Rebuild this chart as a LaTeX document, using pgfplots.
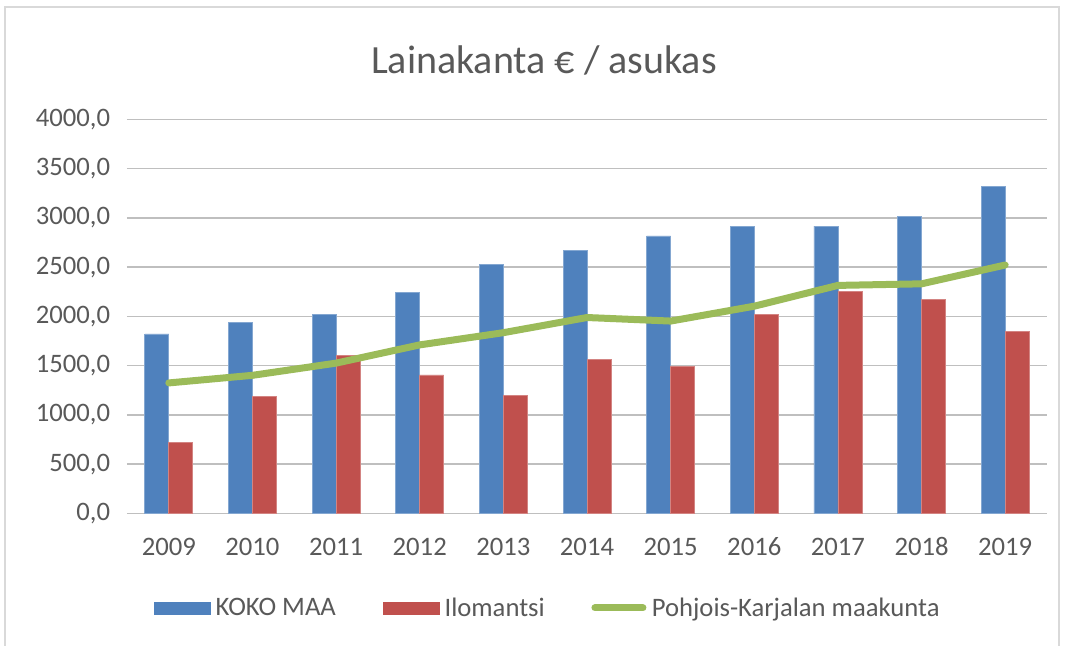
\documentclass[border=0pt]{standalone}
\usepackage{fontspec}
\setmainfont{Carlito}
\usepackage{pgfplots}
\pgfplotsset{compat=1.18}

\definecolor{kblue}{RGB}{79,129,189}
\definecolor{kred}{RGB}{192,80,77}
\definecolor{kgreen}{RGB}{155,187,89}
\definecolor{txt}{RGB}{89,89,89}
\definecolor{grid}{RGB}{217,217,217}

\begin{document}
\begin{tikzpicture}[x=0.75pt,y=0.75pt]
\useasboundingbox (0,0) rectangle (1065,646);
% chart frame
\draw[grid, line width=1pt] (5,0) -- (5,639) -- (1059,639) -- (1059,0);
\node[txt, font=\fontsize{30}{36}\selectfont] at (544,586) {Lainakanta € / asukas};

\begin{axis}[
  at={(95.25pt,99.5pt)}, anchor=south west,
  scale only axis, width=690pt, height=295.5pt,
  xmin=-0.5, xmax=10.5, ymin=0, ymax=4000,
  xtick={0,...,10},
  xticklabels={2009,2010,2011,2012,2013,2014,2015,2016,2017,2018,2019},
  ytick={0,500,...,4000},
  axis line style={draw=none},
  tick style={draw=none},
  xmajorgrids=false, ymajorgrids=true, grid style={grid, line width=1.1pt},
  font=\fontsize{20}{24}\selectfont,
  tick label style={txt},
  /pgf/number format/.cd, fixed, fixed zerofill, precision=1, use comma, 1000 sep={}, assume math mode=true,
  /pgfplots/.cd,
  yticklabel style={anchor=east, inner sep=0pt, xshift=-12.5pt},
  xticklabel style={anchor=base, inner sep=0pt, yshift=-32pt},
  clip=false,
  legend columns=-1,
  legend style={at={(0.4576,-0.240)}, anchor=center, draw=none, fill=none,
    text=txt, font=\fontsize{20}{24}\selectfont,
    /tikz/every odd column/.append style={column sep=2pt},
    /tikz/every even column/.append style={column sep=33pt}},
]
\addplot[ybar, bar width=18pt, bar shift=-9pt, fill=kblue, draw=kblue!70!white, line width=0.5pt,
  legend image code/.code={\fill[kblue] (0pt,-4.5pt) rectangle (42pt,4.5pt);}]
  coordinates {(0,1821) (1,1938) (2,2022) (3,2240) (4,2525) (5,2672) (6,2817) (7,2917) (8,2917) (9,3018) (10,3320)};
\addlegendentry{KOKO MAA}
\addplot[ybar, bar width=18pt, bar shift=9pt, fill=kred, draw=kred!70!white, line width=0.5pt,
  legend image code/.code={\fill[kred] (0pt,-4.5pt) rectangle (42pt,4.5pt);}]
  coordinates {(0,724) (1,1187) (2,1606) (3,1405) (4,1200) (5,1559) (6,1489) (7,2022) (8,2257) (9,2169) (10,1851)};
\addlegendentry{Ilomantsi}
\addplot[kgreen, line width=5.25pt, line join=round, line cap=round, mark=none,
  legend image code/.code={\draw[kgreen, line width=5.25pt, line cap=round] (3pt,0pt) -- (39pt,0pt);}]
  coordinates {(0,1324) (1,1401) (2,1525) (3,1710) (4,1834) (5,1988) (6,1952) (7,2103) (8,2314) (9,2330) (10,2521)};
\addlegendentry{Pohjois-Karjalan maakunta}
\end{axis}
\end{tikzpicture}
\end{document}
